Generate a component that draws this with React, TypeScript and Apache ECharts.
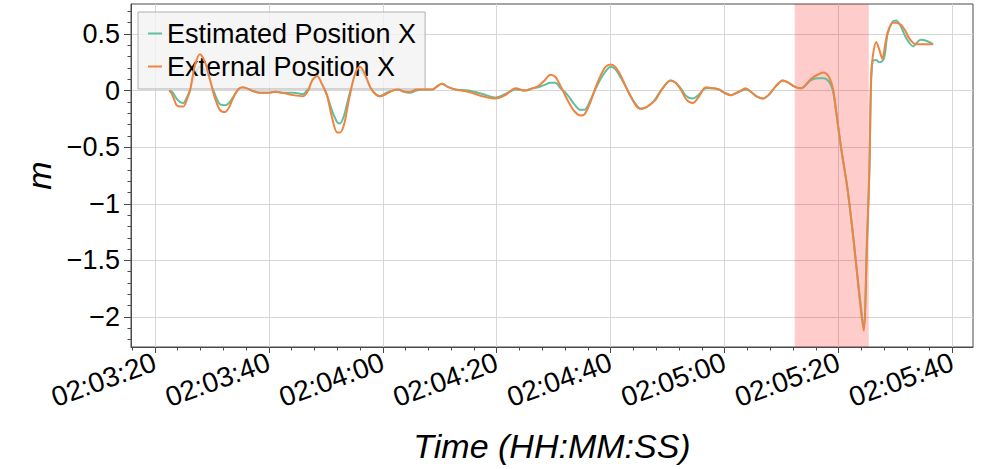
import React, { useEffect, useRef } from 'react';
import * as echarts from 'echarts';

// time in seconds since midnight (02:03:20 = 7400)
const times = [
  7402.5, 7403.0, 7403.8, 7404.4, 7405.0, 7405.6, 7406.2, 7407.0, 7407.9, 7408.8,
  7409.7, 7410.5, 7411.4, 7412.3, 7413.0, 7413.7, 7414.6, 7415.3, 7416.2, 7417.0,
  7418.5, 7419.9, 7421.1, 7422.5, 7424.3, 7426.0, 7426.9, 7427.6, 7428.5, 7429.3,
  7430.2, 7431.1, 7432.0, 7432.5, 7433.2, 7433.9, 7434.6, 7435.3, 7436.0, 7436.9,
  7437.8, 7438.7, 7439.5, 7440.6, 7441.7, 7442.7, 7443.8, 7444.8, 7445.9, 7446.9,
  7448.7, 7449.6, 7450.4, 7451.5, 7452.7, 7455.0, 7457.5, 7459.8, 7461.5, 7463.3,
  7465.0, 7466.3, 7467.3, 7468.4, 7469.4, 7470.3, 7471.2, 7471.9, 7472.6, 7473.6,
  7474.7, 7475.4, 7476.3, 7477.3, 7478.2, 7479.1, 7480.0, 7480.8, 7481.7, 7482.6,
  7483.5, 7484.4, 7485.2, 7486.1, 7487.0, 7487.9, 7489.1, 7490.5, 7491.4, 7492.3,
  7493.3, 7494.4, 7495.4, 7496.7, 7497.9, 7499.0, 7500.0, 7501.1, 7502.5, 7503.7,
  7504.6, 7505.6, 7506.7, 7507.7, 7509.0, 7510.2, 7511.2, 7512.1, 7513.4, 7515.1,
  7516.3, 7517.4, 7518.3, 7519.0, 7519.5, 7520.4, 7521.6, 7522.7, 7523.5, 7524.4,
  7525.0, 7525.4, 7525.7, 7526.0, 7526.6, 7527.1, 7527.7, 7528.1, 7528.6, 7529.5,
  7530.1, 7531.0, 7531.7, 7532.3, 7533.1, 7533.7, 7534.4, 7535.4, 7536.6,
];

const estimatedX = [
  0, -0.01, -0.07, -0.1, -0.11, -0.06, 0.01, 0.14, 0.21, 0.18,
  0.09, -0.03, -0.12, -0.13, -0.11, -0.06, 0.01, 0.03, 0.02, 0.0,
  -0.02, -0.02, -0.01, -0.02, -0.02, -0.03, 0.02, 0.09, 0.12, 0.06,
  -0.04, -0.18, -0.28, -0.29, -0.22, -0.08, 0.05, 0.15, 0.18, 0.12,
  0.03, -0.03, -0.05, -0.02, 0.0, 0.01, -0.01, -0.02, 0.0, 0.01,
  0.01, 0.04, 0.06, 0.03, 0.01, 0.0, -0.03, -0.06, -0.03, 0.01,
  0.0, 0.02, 0.03, 0.05, 0.07, 0.07, 0.02, -0.01, -0.05, -0.12,
  -0.17, -0.17, -0.1, 0.01, 0.1, 0.17, 0.21, 0.19, 0.12, 0.04,
  -0.05, -0.12, -0.16, -0.15, -0.12, -0.07, 0.02, 0.09, 0.07, 0.02,
  -0.05, -0.07, -0.04, 0.02, 0.02, 0.01, -0.02, -0.04, -0.01, 0.01,
  -0.01, -0.05, -0.07, -0.04, 0.04, 0.09, 0.07, 0.04, 0.02, 0.09,
  0.11, 0.11, 0.08, 0.0, -0.16, -0.49, -0.88, -1.35, -1.72, -2.08,
  -1.29, -0.7, 0.05, 0.26, 0.27, 0.25, 0.26, 0.31, 0.5, 0.61,
  0.62, 0.56, 0.48, 0.43, 0.39, 0.42, 0.45, 0.44, 0.41,
];

const externalX = [
  0, -0.03, -0.13, -0.14, -0.14, -0.08, 0.01, 0.22, 0.32, 0.25,
  0.09, -0.06, -0.17, -0.19, -0.15, -0.07, 0.01, 0.03, 0.02, 0.0,
  -0.02, -0.02, -0.01, -0.02, -0.04, -0.05, 0.0, 0.09, 0.13, 0.06,
  -0.04, -0.24, -0.37, -0.37, -0.3, -0.12, 0.05, 0.17, 0.21, 0.14,
  0.03, -0.03, -0.05, -0.03, 0.0, 0.01, -0.01, -0.01, 0.01, 0.01,
  0.01, 0.04, 0.06, 0.03, 0.01, -0.01, -0.05, -0.07, -0.04, 0.02,
  0.0, 0.02, 0.04, 0.09, 0.14, 0.12, 0.04, -0.03, -0.1, -0.18,
  -0.22, -0.21, -0.12, 0.02, 0.13, 0.21, 0.23, 0.21, 0.14, 0.04,
  -0.05, -0.13, -0.16, -0.15, -0.12, -0.08, 0.02, 0.09, 0.07, 0.01,
  -0.08, -0.11, -0.06, 0.03, 0.02, 0.01, -0.02, -0.04, -0.01, 0.02,
  -0.01, -0.05, -0.07, -0.04, 0.04, 0.09, 0.07, 0.04, 0.02, 0.1,
  0.14, 0.16, 0.12, 0.02, -0.15, -0.49, -0.88, -1.35, -1.74, -2.12,
  -1.35, -0.75, 0.1, 0.3, 0.43, 0.37, 0.28, 0.38, 0.51, 0.6,
  0.6, 0.58, 0.53, 0.47, 0.42, 0.41, 0.41, 0.41, 0.41,
];

const highlightSpan = [7512.3, 7525.3];

const xMajorTicks = [7400, 7420, 7440, 7460, 7480, 7500, 7520, 7540];
const xMinorTicks = [
  7396, 7404, 7408, 7412, 7416, 7424, 7428, 7432, 7436, 7444, 7448, 7452, 7456,
  7464, 7468, 7472, 7476, 7484, 7488, 7492, 7496, 7504, 7508, 7512, 7516,
  7524, 7528, 7532, 7536,
];
const yMajorTicks = [-2, -1.5, -1, -0.5, 0, 0.5];
const yMinorTicks = [
  -2.2, -2.1, -1.9, -1.8, -1.7, -1.6, -1.4, -1.3, -1.2, -1.1, -0.9, -0.8, -0.7,
  -0.6, -0.4, -0.3, -0.2, -0.1, 0.1, 0.2, 0.3, 0.4, 0.6, 0.7,
];

const X_MIN = 7395.8;
const X_MAX = 7543.6;
const Y_MIN = -2.265;
const Y_MAX = 0.765;

const TEAL = '#5fbf9e';
const ORANGE = '#ee8441';
const AXIS = '#4a4a4a';
const FONT = 'Liberation Sans';

function fmtTime(v: number): string {
  const t = Math.round(v);
  const h = Math.floor(t / 3600);
  const m = Math.floor((t % 3600) / 60);
  const s = t % 60;
  const p = (n: number) => (n < 10 ? '0' + n : '' + n);
  return p(h) + ':' + p(m) + ':' + p(s);
}

function fmtY(v: number): string {
  const r = Math.round(v * 100) / 100;
  return String(r).replace('-', '\u2212');
}

export default function App() {
  const ref = useRef<HTMLDivElement>(null);
  useEffect(() => {
    if (!ref.current) return;
    const chart = echarts.init(ref.current, null, { renderer: 'svg' });
    const option: any = {
      animation: false,
      backgroundColor: '#ffffff',
      textStyle: { fontFamily: FONT },
      grid: {
        left: 131,
        top: 4,
        right: 23,
        bottom: 122,
        show: true,
        borderColor: AXIS,
        borderWidth: 1,
        backgroundColor: 'transparent',
      },
      legend: {
        left: 138,
        top: 12,
        orient: 'vertical',
        data: ['Estimated Position X', 'External Position X'],
        icon: 'rect',
        itemWidth: 14,
        itemHeight: 2,
        itemGap: 6,
        padding: [8, 9, 9, 10],
        backgroundColor: 'rgba(242,242,242,0.8)',
        borderColor: '#b0b0b0',
        borderWidth: 1,
        borderRadius: 0,
        textStyle: { fontSize: 27, lineHeight: 27, color: '#000', fontFamily: FONT },
      },
      xAxis: [
        {
          type: 'value',
          min: X_MIN,
          max: X_MAX,
          position: 'bottom',
          name: 'Time (HH:MM:SS)',
          nameLocation: 'middle',
          nameGap: 82,
          nameTextStyle: { fontSize: 34, fontStyle: 'italic', color: '#000', fontFamily: FONT },
          axisLine: { show: true, onZero: false, lineStyle: { color: AXIS, width: 1 } },
          axisTick: { show: true, length: 6, customValues: xMajorTicks, lineStyle: { color: AXIS } },
          axisLabel: {
            customValues: xMajorTicks,
            rotate: 20,
            margin: 14,
            fontSize: 28,
            color: '#000',
            fontFamily: FONT,
            formatter: (v: number) => fmtTime(v),
          },
          splitLine: { show: true, lineStyle: { color: '#d6d6d6', width: 1 } },
        },
        {
          type: 'value',
          min: X_MIN,
          max: X_MAX,
          position: 'bottom',
          axisLine: { show: false, onZero: false },
          axisTick: { show: true, length: 3.5, customValues: xMinorTicks, lineStyle: { color: AXIS } },
          axisLabel: { show: false },
          splitLine: { show: false },
        },
      ],
      yAxis: [
        {
          type: 'value',
          min: Y_MIN,
          max: Y_MAX,
          position: 'left',
          name: 'm',
          nameLocation: 'middle',
          nameGap: 74,
          nameTextStyle: { fontSize: 34, fontStyle: 'italic', color: '#000', fontFamily: FONT },
          axisLine: { show: true, onZero: false, lineStyle: { color: AXIS, width: 1 } },
          axisTick: { show: true, length: 7, customValues: yMajorTicks, lineStyle: { color: AXIS } },
          axisLabel: {
            customValues: yMajorTicks,
            margin: 11,
            fontSize: 27,
            color: '#000',
            fontFamily: FONT,
            formatter: (v: number) => fmtY(v),
          },
          splitLine: { show: true, lineStyle: { color: '#d6d6d6', width: 1 } },
        },
        {
          type: 'value',
          min: Y_MIN,
          max: Y_MAX,
          position: 'left',
          axisLine: { show: false, onZero: false },
          axisTick: { show: true, length: 3.5, customValues: yMinorTicks, lineStyle: { color: AXIS } },
          axisLabel: { show: false },
          splitLine: { show: false },
        },
      ],
      series: [
        {
          type: 'line',
          data: [],
          silent: true,
          markArea: {
            silent: true,
            itemStyle: { color: 'rgba(255,0,0,0.2)' },
            data: [[{ xAxis: highlightSpan[0] }, { xAxis: highlightSpan[1] }]],
          },
        },
        {
          name: 'Estimated Position X',
          type: 'line',
          data: times.map((t, i) => [t, estimatedX[i]]),
          showSymbol: false,
          symbol: 'none',
          smooth: 0.3,
          lineStyle: { color: TEAL, width: 2 },
          itemStyle: { color: TEAL },
          z: 3,
        },
        {
          name: 'External Position X',
          type: 'line',
          data: times.map((t, i) => [t, externalX[i]]),
          showSymbol: false,
          symbol: 'none',
          smooth: 0.3,
          lineStyle: { color: ORANGE, width: 2 },
          itemStyle: { color: ORANGE },
          z: 4,
        },
      ],
    };
    chart.setOption(option);
    return () => chart.dispose();
  }, []);
  return (
    <div
      ref={ref}
      style={{ position: 'fixed', left: 0, top: 0, width: 996, height: 469, background: '#fff' }}
    />
  );
}
